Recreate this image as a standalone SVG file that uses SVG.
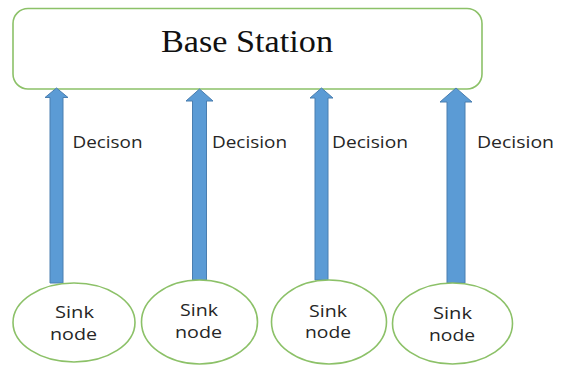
<svg xmlns="http://www.w3.org/2000/svg" width="566" height="365" viewBox="0 0 566 365">
<style>
.box{fill:#fff;stroke:#8CC168;stroke-width:1.6}
.node{fill:#fff;stroke:#8CC168;stroke-width:1.6}
.arrow{fill:#5B9BD5;stroke:#4A7EB0;stroke-width:1}
.lbl{font-family:"Open Sans","Liberation Sans",sans-serif;font-size:16px;fill:#262626}
.nl{font-family:"Open Sans","Liberation Sans",sans-serif;font-size:16.5px;fill:#262626}
.title{font-family:"Liberation Serif","Times New Roman",serif;font-size:31px;fill:#111}
</style>
<rect width="566" height="365" fill="#fff"/>
<g id="base-station">
<rect class="box" x="13" y="8.5" width="469" height="80.5" rx="15" ry="15"/>
<text class="title" x="161" y="52" textLength="172" lengthAdjust="spacingAndGlyphs">Base Station</text>
</g>
<g id="connectors">
<polygon class="arrow" points="56.5,88 68,97.5 63,97.5 63,283 50,283 50,97.5 45,97.5"/>
<polygon class="arrow" points="199.5,89 213,101 206.5,101 206.5,280 192.5,280 192.5,101 186,101"/>
<polygon class="arrow" points="321.5,88 333,98 328,98 328,280 315,280 315,98 310,98"/>
<polygon class="arrow" points="456,88 472,102 465,102 465,283 447,283 447,102 440,102"/>
<text class="lbl" x="72.5" y="148" textLength="70" lengthAdjust="spacingAndGlyphs">Decison</text>
<text class="lbl" x="212" y="148" textLength="75" lengthAdjust="spacingAndGlyphs">Decision</text>
<text class="lbl" x="332" y="148" textLength="76" lengthAdjust="spacingAndGlyphs">Decision</text>
<text class="lbl" x="477" y="148" textLength="77" lengthAdjust="spacingAndGlyphs">Decision</text>
</g>
<g id="sink-1">
<ellipse class="node" cx="74" cy="322.5" rx="61" ry="39.5"/>
<text class="nl" x="55" y="318" textLength="39" lengthAdjust="spacingAndGlyphs">Sink</text>
<text class="nl" x="50" y="340" textLength="47" lengthAdjust="spacingAndGlyphs">node</text>
</g>
<g id="sink-2">
<ellipse class="node" cx="199.5" cy="322" rx="58" ry="42"/>
<text class="nl" x="180" y="316" textLength="38" lengthAdjust="spacingAndGlyphs">Sink</text>
<text class="nl" x="175" y="338" textLength="47" lengthAdjust="spacingAndGlyphs">node</text>
</g>
<g id="sink-3">
<ellipse class="node" cx="329" cy="322" rx="57.5" ry="42"/>
<text class="nl" x="309" y="317" textLength="38" lengthAdjust="spacingAndGlyphs">Sink</text>
<text class="nl" x="305" y="338" textLength="46" lengthAdjust="spacingAndGlyphs">node</text>
</g>
<g id="sink-4">
<ellipse class="node" cx="452.5" cy="323.5" rx="60" ry="40.5"/>
<text class="nl" x="433" y="319" textLength="39" lengthAdjust="spacingAndGlyphs">Sink</text>
<text class="nl" x="429" y="341" textLength="46" lengthAdjust="spacingAndGlyphs">node</text>
</g>
</svg>
